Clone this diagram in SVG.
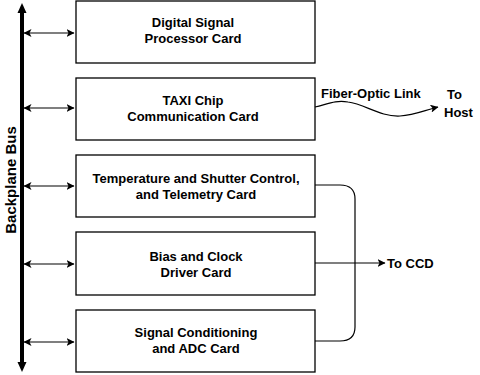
<svg xmlns="http://www.w3.org/2000/svg" width="480" height="375" viewBox="0 0 480 375">
  <style>
    .card { fill: #fff; stroke: #000; stroke-width: 1.3; }
    .lbl { font-family: "Liberation Sans", Arial, sans-serif; font-weight: bold; font-size: 13px; fill: #000; }
    .mid { text-anchor: middle; }
    .wire { fill: none; stroke: #000; stroke-width: 1.2; }
  </style>
  <defs>
    <marker id="head" viewBox="0 0 8 8" refX="7.5" refY="4" markerWidth="8" markerHeight="8" markerUnits="userSpaceOnUse" orient="auto-start-reverse">
      <path d="M0,0 L8,4 L0,8 L2,4 Z" fill="#000"/>
    </marker>
  </defs>
  <rect width="480" height="375" fill="#fff"/>

  <!-- backplane bus -->
  <g id="bus">
    <line x1="22" y1="12" x2="22" y2="364" stroke="#000" stroke-width="4"/>
    <path d="M22,3 L26.5,13 L17.5,13 Z" fill="#000"/>
    <path d="M22,372 L26.5,362 L17.5,362 Z" fill="#000"/>
    <text class="lbl" transform="translate(16,180) rotate(-90)" text-anchor="middle" style="font-size:15px">Backplane Bus</text>
  </g>

  <!-- cards -->
  <g id="dsp">
    <rect class="card" x="76" y="1" width="239" height="62"/>
    <text class="lbl mid" x="193" y="27">Digital Signal</text>
    <text class="lbl mid" x="193" y="43">Processor Card</text>
  </g>
  <g id="taxi">
    <rect class="card" x="76" y="78" width="239" height="62"/>
    <text class="lbl mid" x="193" y="105">TAXI Chip</text>
    <text class="lbl mid" x="193" y="121">Communication Card</text>
  </g>
  <g id="temp">
    <rect class="card" x="76" y="155" width="239" height="62"/>
    <text class="lbl mid" x="196" y="183">Temperature and Shutter Control,</text>
    <text class="lbl mid" x="196" y="199">and Telemetry Card</text>
  </g>
  <g id="bias">
    <rect class="card" x="76" y="232" width="239" height="63"/>
    <text class="lbl mid" x="196" y="261">Bias and Clock</text>
    <text class="lbl mid" x="196" y="277">Driver Card</text>
  </g>
  <g id="adc">
    <rect class="card" x="76" y="310" width="239" height="62"/>
    <text class="lbl mid" x="196" y="337">Signal Conditioning</text>
    <text class="lbl mid" x="196" y="353">and ADC Card</text>
  </g>

  <!-- connectors -->
  <g id="connectors">
    <line class="wire" x1="24" y1="33" x2="74" y2="33" marker-start="url(#head)" marker-end="url(#head)"/>
    <line class="wire" x1="24" y1="108" x2="74" y2="108" marker-start="url(#head)" marker-end="url(#head)"/>
    <line class="wire" x1="24" y1="186" x2="74" y2="186" marker-start="url(#head)" marker-end="url(#head)"/>
    <line class="wire" x1="24" y1="264" x2="74" y2="264" marker-start="url(#head)" marker-end="url(#head)"/>
    <line class="wire" x1="24" y1="342" x2="74" y2="342" marker-start="url(#head)" marker-end="url(#head)"/>

    <!-- fiber-optic link -->
    <path class="wire" d="M315,107 C328,104 335,100 348,102 C365,104 380,117 400,116 C415,115 425,110 438,107" marker-end="url(#head)"/>

    <!-- bracket joining temperature and ADC cards -->
    <path class="wire" d="M315,185 L340,185 Q355,185 355,199 L355,327 Q355,341 340,341 L315,341"/>
    <line class="wire" x1="315" y1="263" x2="385" y2="263" marker-end="url(#head)"/>
  </g>

  <g id="labels">
    <text class="lbl" x="321" y="98">Fiber-Optic Link</text>
    <text class="lbl" x="447" y="99">To</text>
    <text class="lbl" x="444" y="117">Host</text>
    <text class="lbl" x="387" y="268">To CCD</text>
  </g>
</svg>
